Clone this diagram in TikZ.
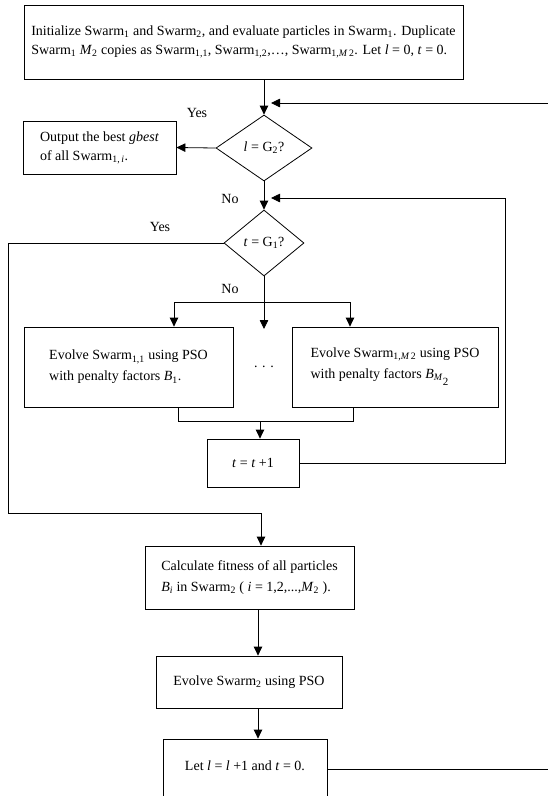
\documentclass[tikz,border=0pt]{standalone}
\usepackage{fontspec}
\setmainfont{Liberation Serif}
\usetikzlibrary{arrows.meta,shapes.geometric}
\newcommand{\swm}[1]{Swarm\textsubscript{#1}}
\begin{document}
\begin{tikzpicture}[x=1pt,y=-1pt,
  every node/.style={font=\fontsize{14}{19}\selectfont},
  box/.style={draw,line width=0.8pt,inner sep=0pt,align=left},
  dia/.style={draw,diamond,line width=0.8pt,inner sep=0pt},
  arr/.style={line width=0.8pt,-{Triangle[length=9pt,width=8.5pt]}},
  ln/.style={line width=0.8pt},
  lab/.style={inner sep=0pt},
  wide/.style={font=\fontsize{14}{21}\selectfont}]
\useasboundingbox (0,0) rectangle (548,796);

\node[box,minimum width=439,minimum height=74] (top) at (243.5,42)
  {Initialize \swm{1} and \swm{2}, and evaluate particles in \swm{1}. Duplicate\\
   \swm{1} \textit{M}\textsubscript{2} copies as \swm{1,1}, \swm{1,2},…, \swm{1,\textit{M}\,2}. Let \textit{l} = 0, \textit{t} = 0.};
\node[dia,minimum width=96,minimum height=66] (d1) at (264,148) {\textit{l} = G\textsubscript{2}?};
\node[box,minimum width=153,minimum height=53] (out) at (99.5,147.5)
  {Output the best \textit{gbest}\\ of all \swm{1,\,\textit{i}}.};
\node[dia,minimum width=80,minimum height=66] (d2) at (264,243) {\textit{t} = G\textsubscript{1}?};
\node[box,wide,minimum width=209,minimum height=80] (ev1) at (128.5,367)
  {Evolve \swm{1,1} using PSO\\ with penalty factors \textit{B}\textsubscript{1}.};
\node[box,wide,minimum width=206,minimum height=80] (ev2) at (395,367)
  {Evolve \swm{1,\textit{M}\,2} using PSO\\ with penalty factors \textit{B}\textsubscript{\textit{M}}\raisebox{-1.1ex}{\fontsize{11}{11}\selectfont 2}};
\node[lab] (dots) at (264,367) {. . .};
\node[box,minimum width=92,minimum height=48] (inc) at (253,463) {\textit{t} = \textit{t} +1};
\node[box,wide,minimum width=209,minimum height=63] (calc) at (249.5,577.5)
  {Calculate fitness of all particles\\ \textit{B}\textsubscript{\textit{i}} in \swm{2} ( \textit{i} = 1,2,...,\textit{M}\textsubscript{2} ).};
\node[box,minimum width=186,minimum height=52] (evo2) at (249,682) {Evolve \swm{2} using PSO};
\node[box,minimum width=164,minimum height=72] (letb) at (245,775) {Let \textit{l} = \textit{l} +1 and \textit{t} = 0.\\ \mbox{}};

\node[lab] (yes1) at (197,113) {Yes};
\node[lab] (no1) at (230,199) {No};
\node[lab] (yes2) at (160,227) {Yes};
\node[lab] (no2) at (230,289) {No};

\coordinate (r1) at (548,103);
\coordinate (t1) at (271,103);
\coordinate (c2) at (505,198);
\coordinate (t2) at (271,198);
\coordinate (yl1) at (8,513);
\coordinate (yl2) at (261,513);
\coordinate (mid) at (264,329);
\coordinate (bl) at (174,302);
\coordinate (br) at (350,302);
\coordinate (ml) at (178,421);
\coordinate (mr) at (353,421);
\coordinate (mm) at (260,421);
\coordinate (xa) at (258,0);
\coordinate (r2) at (548,769);

\draw[arr] (top.south -| d1.north) -- (d1.north);
\draw[arr] (r1) -- (t1);
\draw[arr] (d1.west) -- (out.east);
\draw[arr] (d1.south) -- (d2.north);
\draw[arr] (inc.east) -| (c2) -- (t2);
\draw[arr] (d2.west) -| (yl1) -- (yl2) -- (yl2 |- calc.north);
\draw[arr] (d2.south) -- (mid);
\draw[ln] (bl) -- (br);
\draw[arr] (bl) -- (bl |- ev1.north);
\draw[arr] (br) -- (br |- ev2.north);
\draw[ln] (ml |- ev1.south) -- (ml) -- (mr) -- (mr |- ev2.south);
\draw[arr] (mm) -- (mm |- inc.north);
\draw[arr] (calc.south -| xa) -- (evo2.north -| xa);
\draw[arr] (evo2.south -| xa) -- (letb.north -| xa);
\draw[ln] (letb.east |- r2) -- (r2);
\end{tikzpicture}
\end{document}
